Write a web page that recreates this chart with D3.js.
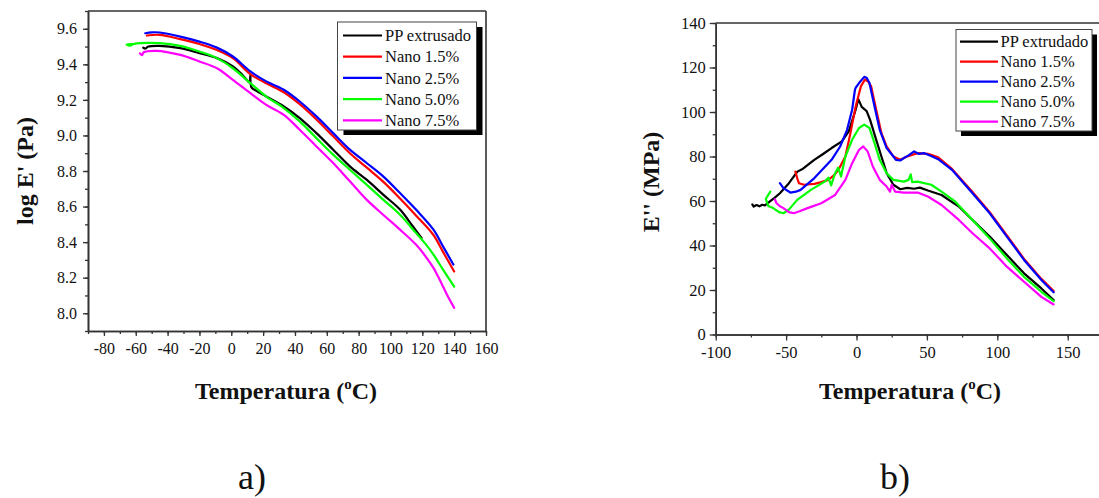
<!DOCTYPE html>
<html><head><meta charset="utf-8">
<script src="https://cdn.jsdelivr.net/npm/d3@7"></script>
<style>
html,body{margin:0;padding:0;background:#fff;}
svg{display:block;}
</style></head>
<body>
<svg id="c" width="1099" height="498"></svg>
<script>
// ---------- DATA ----------
const seriesNames = ["PP extrusado","Nano 1.5%","Nano 2.5%","Nano 5.0%","Nano 7.5%"];
const seriesNamesB = ["PP extrudado","Nano 1.5%","Nano 2.5%","Nano 5.0%","Nano 7.5%"];
const seriesColors = ["#000000","#ff0000","#0000ff","#00ff00","#ff00ff"];

// Panel a) log E' (Pa) vs Temperatura
const ppA = [[-55.3,9.494],[-54,9.488],[-52.1,9.5],[-45,9.504],[-32,9.491],[-20,9.463],[-9,9.435],[1,9.388],[6,9.35],[10,9.31],[11.5,9.298],[12,9.34],[12.6,9.272],[16,9.25],[22,9.219],[33,9.163],[43,9.098],[53.5,9.013],[64,8.92],[74.5,8.826],[85,8.751],[95.4,8.667],[106,8.583],[114,8.489],[119.5,8.424]];
const n15A = [[-53,9.562],[-45,9.566],[-32,9.542],[-20,9.514],[-9,9.48],[1,9.435],[12,9.345],[22,9.293],[33,9.243],[43,9.176],[53.5,9.09],[64,8.995],[74.5,8.9],[85,8.82],[95.4,8.74],[106,8.645],[116,8.55],[127,8.44],[133,8.345],[140,8.235]];
const n25A = [[-54,9.575],[-50,9.58],[-45,9.579],[-32,9.556],[-20,9.528],[-9,9.494],[1,9.444],[12,9.36],[22,9.304],[33,9.257],[43,9.191],[53.5,9.107],[64,9.013],[74.5,8.92],[85,8.845],[95.4,8.77],[106,8.676],[116,8.583],[127,8.47],[133,8.376],[139.5,8.274]];
const n50A = [[-62,9.514],[-65.7,9.512],[-64,9.505],[-61,9.515],[-45,9.519],[-32,9.504],[-20,9.472],[-9,9.435],[1,9.378],[12,9.294],[22,9.219],[33,9.154],[43,9.079],[53.5,8.985],[64,8.892],[74.5,8.807],[85,8.723],[95.4,8.639],[106,8.554],[116,8.452],[122,8.39],[127,8.33],[133,8.245],[140,8.15]];
const n75A = [[-57.4,9.462],[-56,9.452],[-55,9.468],[-47,9.476],[-32,9.453],[-20,9.416],[-9,9.378],[1,9.313],[12,9.238],[22,9.172],[33,9.116],[43,9.032],[53.5,8.938],[64,8.845],[74.5,8.742],[85,8.639],[95.4,8.554],[106,8.47],[116,8.386],[122,8.32],[127,8.255],[130,8.205],[133,8.15],[136,8.095],[140,8.03]];

// Panel b) E'' (MPa) vs Temperatura
const ppB = [[-74,58.5],[-73,57.5],[-71,58.2],[-69,57.6],[-67,58.3],[-65,58],[-63,59],[-61.7,59.7],[-58,61.5],[-54.4,63.5],[-48,68],[-42,73.2],[-38,74.5],[-30,78.5],[-24,81],[-17.7,83.8],[-10.4,86.8],[-5.5,91.3],[-0.6,101],[1.3,105.8],[3.7,102.3],[7.2,100.4],[9.6,96.6],[14,87.5],[17.7,80],[21.4,72.5],[26.2,67.3],[31.1,65.3],[36,65.9],[40.9,65.5],[45,66],[50.7,64.7],[60.4,62.7],[72.7,57.5],[82.4,51.5],[94.6,44],[106.8,35.7],[119,27.5],[131.3,20.7],[140,15.5]];
const n15B = [[-43.4,73.2],[-42,70],[-40.9,68],[-37.2,67.3],[-29.9,67.7],[-25,68.5],[-20.1,69.5],[-16,71.5],[-12.8,74],[-7.9,80],[-4.3,90.5],[-0.6,102.5],[3.1,111.5],[6,114.6],[8.5,113.5],[10.4,111.5],[14,101],[17.7,90.5],[21.4,84.5],[26.2,80],[31.1,78.5],[36,80],[43.4,81.5],[50.7,81.2],[54,80.5],[58,79.6],[67.8,74.4],[82.4,64],[94.6,55],[106.8,44.5],[119,34],[131.3,25],[140,19.5]];
const n25B = [[-54.4,68],[-51.9,65.8],[-47,63.8],[-43,64.2],[-39.7,65],[-29.9,70.3],[-17.7,78.5],[-11.6,84.5],[-6.7,92],[-3.1,101],[-1.1,110],[-0.6,110.9],[1.8,113],[5.5,115.8],[7.2,115.4],[9.2,113],[12.8,102.5],[16.5,92],[21.4,83.8],[26.2,80],[28,78.5],[31.1,78.2],[33.6,79.3],[37,80.5],[40.9,82.3],[44,81.2],[48.2,81.5],[53,80.2],[58,78.8],[67.8,74],[82.4,63.5],[94.6,54.5],[106.8,44],[119,33.5],[131.3,24.5],[140,19]];
const n50B = [[-61.2,64.2],[-64.4,61],[-62.7,57.8],[-59.2,56.8],[-55,55],[-51.9,54.5],[-48.2,56],[-42.1,60.5],[-32.4,65],[-22.6,68.7],[-20,70.5],[-18,67],[-15.2,72.5],[-13,75],[-11,71],[-7.9,80],[-3.1,87.5],[1.8,92.8],[5.5,94.3],[9.2,92.8],[12.8,86],[16.5,78.5],[21.4,72.5],[26.2,69.5],[33.6,68.7],[37,69.5],[38.5,72],[39.5,68.5],[43.4,68.7],[53.1,67.3],[60.4,64.2],[70.2,59.7],[82.4,51.5],[94.6,43.2],[106.8,34.2],[119,25.9],[131.3,19.2],[140,15]];
const n75B = [[-58,60.8],[-56.8,59],[-54,57.5],[-51.9,56.8],[-48,55],[-44.5,54.5],[-40,55.5],[-34.8,56.8],[-25,59],[-15.2,62.7],[-7.9,69.5],[-3.1,77],[1.8,83],[4.8,84.5],[7.9,82.3],[11.6,75.5],[16.5,69.5],[21.4,66.5],[23.8,64.2],[25,67.3],[27.5,64.2],[33.6,63.8],[43.4,63.8],[50.7,62],[60.4,58.2],[72.7,51.5],[82.4,45.5],[94.6,38.7],[106.8,30.5],[119,23.7],[131.3,16.9],[140,13.5]];

// Ticks
const xTicksA = [-80,-60,-40,-20,0,20,40,60,80,100,120,140,160];
const xMinorA = d3.range(-90,161,10);
const yTicksA = [8.0,8.2,8.4,8.6,8.8,9.0,9.2,9.4,9.6];
const yMinorA = d3.range(79,98,1).map(d=>d/10);
const xTicksB = [-100,-50,0,50,100,150];
const xMinorB = d3.range(-100,176,25);
const yTicksB = [0,20,40,60,80,100,120,140];
const yMinorB = d3.range(0,141,10);

// ---------- DRAW ----------
const FONT = "'Liberation Serif','Times New Roman',serif";
const svg = d3.select("#c");
svg.append("rect").attr("width",1099).attr("height",498).attr("fill","#fff");
const hy = f => d => f(d).replace("\u2212","-");

function panel(cfg){
  const {x,y,xt,xm,yt,ym,fmtY,series,names,legend,xLabelPad,yLabelPad,tickMaj,fs,curve} = cfg;
  const g = svg.append("g");
  const [x0,x1] = x.range(), [y0,y1] = y.range();
  g.append("line").attr("x1",x0).attr("x2",x1).attr("y1",y1).attr("y2",y1).attr("stroke","#333").attr("stroke-width",1.6);
  g.append("line").attr("x1",x1).attr("x2",x1).attr("y1",y1).attr("y2",y0).attr("stroke","#333").attr("stroke-width",1.6);
  g.append("g").attr("transform",`translate(0,${y0})`)
    .call(d3.axisBottom(x).tickValues(xm).tickSize(3).tickSizeOuter(0).tickFormat(""));
  g.append("g").attr("transform",`translate(${x0},0)`)
    .call(d3.axisLeft(y).tickValues(ym).tickSize(3).tickSizeOuter(0).tickFormat(""));
  g.append("g").attr("transform",`translate(0,${y0})`)
    .call(d3.axisBottom(x).tickValues(xt).tickSize(tickMaj).tickSizeOuter(0).tickPadding(xLabelPad).tickFormat(hy(d3.format("d"))));
  g.append("g").attr("transform",`translate(${x0},0)`)
    .call(d3.axisLeft(y).tickValues(yt).tickSize(tickMaj).tickSizeOuter(0).tickPadding(yLabelPad).tickFormat(hy(fmtY)));
  g.selectAll(".domain").attr("stroke","#333").attr("stroke-width",1.6);
  g.selectAll(".tick line").attr("stroke","#333").attr("stroke-width",1.3);
  g.selectAll(".tick text").style("font-family",FONT).style("font-size",fs+"px").attr("fill","#111");
  const line = d3.line().x(d=>x(d[0])).y(d=>y(d[1])).curve(curve);
  series.forEach((s,i)=>{
    g.append("path").datum(s).attr("d",line).attr("fill","none")
      .attr("stroke",seriesColors[i]).attr("stroke-width",2.2).attr("stroke-linejoin","round").attr("stroke-linecap","round");
  });
  const L = legend;
  g.append("rect").attr("x",L.x+L.sx).attr("y",L.y+L.sy).attr("width",L.w).attr("height",L.h).attr("fill","#000");
  g.append("rect").attr("x",L.x).attr("y",L.y).attr("width",L.w).attr("height",L.h).attr("fill","#fff").attr("stroke","#444").attr("stroke-width",1);
  names.forEach((n,i)=>{
    const yy = L.r0 + i*L.dr;
    g.append("line").attr("x1",L.lx0).attr("x2",L.lx1).attr("y1",yy).attr("y2",yy).attr("stroke",seriesColors[i]).attr("stroke-width",2.2);
    g.append("text").attr("x",L.tx).attr("y",yy).attr("dy","0.35em")
      .style("font-family",FONT).style("font-size","16.5px").attr("fill","#111").text(n);
  });
}

const xA = d3.scaleLinear([-90,160],[88,486]);
const yA = d3.scaleLinear([7.9,9.7],[331,11]);
panel({x:xA,y:yA,xt:xTicksA,xm:xMinorA,yt:yTicksA,ym:yMinorA,fmtY:d3.format(".1f"),
  series:[ppA,n15A,n25A,n50A,n75A],names:seriesNames,xLabelPad:7,yLabelPad:6,tickMaj:5,fs:16,
  curve:d3.curveCatmullRom.alpha(0.5),
  legend:{x:337.5,y:22,w:139,h:108,sx:6,sy:5,r0:35.5,dr:21.2,lx0:343,lx1:382,tx:385}});

const xB = d3.scaleLinear([-100,175],[715.7,1102.9]);
const yB = d3.scaleLinear([0,140],[334.5,23]);
panel({x:xB,y:yB,xt:xTicksB,xm:xMinorB,yt:yTicksB,ym:yMinorB,fmtY:d3.format("d"),
  series:[ppB,n15B,n25B,n50B,n75B],names:seriesNamesB,xLabelPad:6,yLabelPad:4,tickMaj:6,fs:16.5,
  curve:d3.curveLinear,
  legend:{x:956,y:29.5,w:136,h:101.5,sx:5,sy:5,r0:41.7,dr:20,lx0:960,lx1:998,tx:1000.5}});

function tempTitle(cx,by){
  const t = svg.append("text").attr("x",cx).attr("y",by).attr("text-anchor","middle")
    .style("font-family",FONT).style("font-size","24px").style("font-weight","bold").attr("fill","#111");
  t.append("tspan").text("Temperatura (");
  t.append("tspan").style("font-size","15px").attr("dy",-10).text("o");
  t.append("tspan").attr("dy",10).text("C)");
}
tempTitle(286,399);
tempTitle(910,399);

svg.append("text").attr("transform","translate(33,171) rotate(-90)").attr("text-anchor","middle")
  .style("font-family",FONT).style("font-size","24px").style("font-weight","bold").attr("fill","#111").text("log E' (Pa)");
svg.append("text").attr("transform","translate(659,182) rotate(-90)").attr("text-anchor","middle")
  .style("font-family",FONT).style("font-size","24px").style("font-weight","bold").attr("fill","#111").text("E'' (MPa)");

svg.append("text").attr("x",252).attr("y",489).attr("text-anchor","middle")
  .style("font-family",FONT).style("font-size","36px").attr("fill","#111").text("a)");
svg.append("text").attr("x",895).attr("y",489).attr("text-anchor","middle")
  .style("font-family",FONT).style("font-size","36px").attr("fill","#111").text("b)");
</script>
</body></html>
